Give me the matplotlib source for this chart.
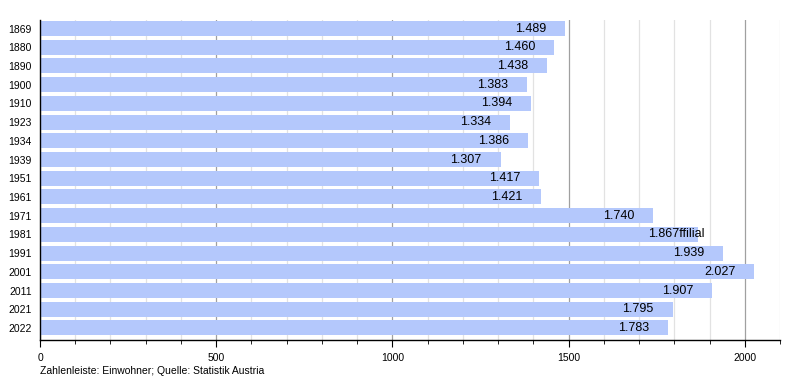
import matplotlib
matplotlib.use("Agg")
import matplotlib.pyplot as plt
from matplotlib.ticker import MultipleLocator
from matplotlib.transforms import offset_copy

years = ["1869", "1880", "1890", "1900", "1910", "1923", "1934", "1939", "1951", "1961",
         "1971", "1981", "1991", "2001", "2011", "2021", "2022"]
values = [1489, 1460, 1438, 1383, 1394, 1334, 1386, 1307, 1417, 1421,
          1740, 1867, 1939, 2027, 1907, 1795, 1783]
labels = ["1.489", "1.460", "1.438", "1.383", "1.394", "1.334", "1.386", "1.307", "1.417", "1.421",
          "1.740", "1.867ffilial", "1.939", "2.027", "1.907", "1.795", "1.783"]

plt.rcParams['font.family'] = ['Liberation Sans', 'DejaVu Sans']

fig = plt.figure(figsize=(8, 3.8), dpi=100)
ax = fig.add_axes([0.05, 0.105, 0.925, 0.842])

pos = list(range(len(years)))
ax.barh(pos, values, height=0.8, color="#b4c8fc", zorder=2)

ax.set_xlim(0, 2100)
ax.set_ylim(16.65, -0.45)
ax.set_yticks(pos)
ax.set_yticklabels(years, fontsize=7.5)
ax.xaxis.set_major_locator(MultipleLocator(500))
ax.xaxis.set_minor_locator(MultipleLocator(100))
ax.tick_params(axis='x', which='major', length=5, labelsize=7.5, pad=4)
ax.tick_params(axis='x', which='minor', length=3)
ax.tick_params(axis='y', length=0, labelsize=7.5, pad=6)
ax.grid(axis='x', which='major', color="#a0a0a0", linewidth=0.9, zorder=0)
ax.grid(axis='x', which='minor', color="#e2e2e2", linewidth=0.9, zorder=0)
ax.set_axisbelow(True)
for s in ['top', 'right']:
    ax.spines[s].set_visible(False)
ax.spines['left'].set_linewidth(1.0)
ax.spines['bottom'].set_linewidth(1.0)

trans = offset_copy(ax.transData, fig=fig, x=-36, y=0, units='points')
for p, v, lab in zip(pos, values, labels):
    ax.text(v, p, lab, transform=trans, ha='left', va='center', fontsize=9, zorder=3)

fig.text(0.05, 0.025, "Zahlenleiste: Einwohner; Quelle: Statistik Austria", fontsize=7.5, ha='left', va='center')

fig.savefig("out.png", dpi=100)
